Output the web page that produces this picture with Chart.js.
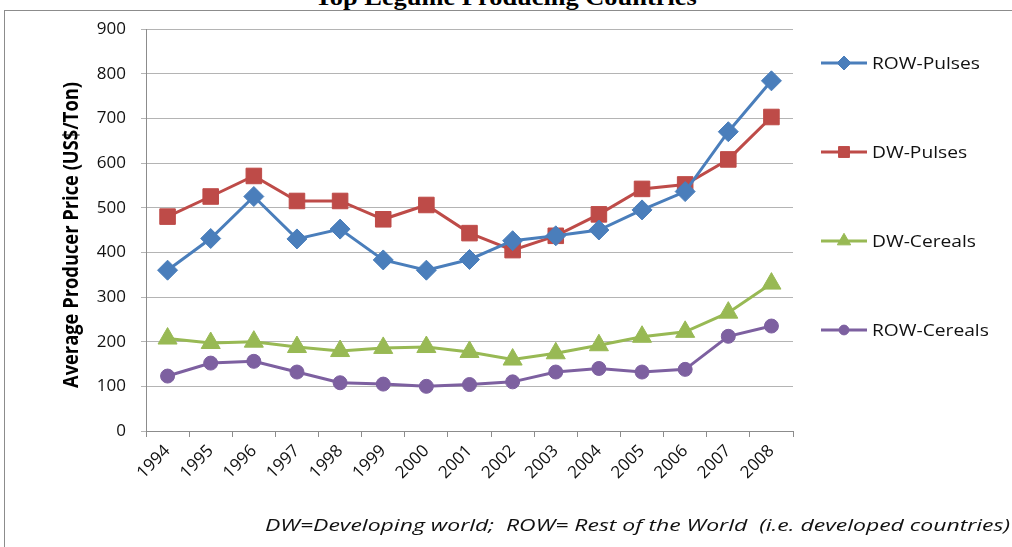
<!DOCTYPE html>
<html>
<head>
<meta charset="utf-8">
<script src="https://cdn.jsdelivr.net/npm/chart.js@4.4.1/dist/chart.umd.min.js"></script>
<style>
  html, body { margin: 0; padding: 0; background: #fff; overflow: hidden; }
  #wrap { position: relative; width: 1012px; height: 547px; }
  #frame { position: absolute; left: 4px; top: 10px; width: 1100px; height: 600px; border: 1px solid #8c8c8c; }
  #title { position: absolute; left: 0; width: 1012px; top: -16px; text-align: center;
           font: bold 24px 'Liberation Serif', 'Times New Roman', serif; color: #000; }
  #title span { display: inline-block; transform: scaleX(1.1); }
  #note { position: absolute; right: 2px; top: 514px; font: italic 16px 'Open Sans', sans-serif;
          color: #111; white-space: pre; transform-origin: right center; }
  canvas { position: absolute; left: 0; top: 0; }
</style>
</head>
<body>
<div id="wrap">
  <div id="frame"></div>
  <div id="title"><span>Top Legume Producing Countries</span></div>
  <canvas id="chart" width="1012" height="547"></canvas>
  <div id="note">DW=Developing world;  ROW= Rest of the World  (i.e. developed countries)</div>
</div>
<script>
// donnees (US$/tonne)
const years = ['1994', '1995', '1996', '1997', '1998', '1999', '2000', '2001',
               '2002', '2003', '2004', '2005', '2006', '2007', '2008'];
const rowPulses   = [360, 431, 525, 430, 452, 383, 360, 384, 426, 437, 450, 495, 536, 670, 784];
const dwPulses    = [480, 525, 571, 515, 515, 474, 506, 443, 405, 437, 485, 542, 552, 608, 703];
const dwCereals   = [207, 197, 200, 188, 179, 186, 188, 177, 160, 174, 192, 211, 222, 265, 330];
const rowCereals  = [123, 152, 156, 132, 108, 105, 100, 104, 110, 132, 140, 132, 138, 212, 235];
const yTicks = [0, 100, 200, 300, 400, 500, 600, 700, 800, 900];
const yTitle = 'Average Producer Price (US$/Ton)';

const colors = {
  blue: '#4a7ebb',
  red: '#be4b48',
  green: '#98b954',
  purple: '#7d60a0',
  grid: '#b4b4b4',
  axis: '#8c8c8c'
};

const fontFam = "'Open Sans', 'Noto Sans', sans-serif";

// la note de bas de page est etiree comme dans l'image d'origine
const note = document.getElementById('note');
note.style.transform = 'scaleX(' + (745 / note.offsetWidth) + ')';

function makeSet(label, data, color, style, radius) {
  return {
    label: label,
    data: data,
    borderColor: color,
    backgroundColor: color,
    borderWidth: 3,
    pointStyle: style,
    pointRadius: radius,
    pointBorderWidth: 1,
    pointBorderColor: color,
    pointBackgroundColor: color,
    tension: 0,
    fill: false
  };
}

// titre de l'axe Y, en gras et comprime
const axisTitle = {
  id: 'axisTitle',
  afterDraw(chart) {
    const ctx = chart.ctx;
    const area = chart.chartArea;
    ctx.save();
    ctx.font = 'bold 22px ' + fontFam;
    const w = ctx.measureText(yTitle).width;
    ctx.translate(72, (area.top + area.bottom) / 2 + 5);
    ctx.rotate(-Math.PI / 2);
    ctx.scale(306 / w, 1);
    ctx.fillStyle = '#000';
    ctx.textAlign = 'center';
    ctx.textBaseline = 'middle';
    ctx.fillText(yTitle, 0, 0);
    ctx.restore();
  }
};

// legende a droite, facon Excel (trait + marqueur)
const sideLegend = {
  id: 'sideLegend',
  afterDraw(chart) {
    const ctx = chart.ctx;
    const rows = [63, 152, 241, 330];
    chart.data.datasets.forEach((ds, i) => {
      const y = rows[i];
      ctx.save();
      ctx.strokeStyle = ds.borderColor;
      ctx.lineWidth = 3;
      ctx.beginPath();
      ctx.moveTo(821, y);
      ctx.lineTo(867, y);
      ctx.stroke();
      ctx.fillStyle = ds.backgroundColor;
      ctx.strokeStyle = ds.borderColor;
      ctx.lineWidth = 1;
      Chart.helpers.drawPoint(ctx, { pointStyle: ds.pointStyle, radius: ds.pointRadius * 0.7, rotation: 0, borderWidth: 1 }, 844, y);
      ctx.fillStyle = '#111';
      ctx.font = '16px ' + fontFam;
      ctx.textBaseline = 'middle';
      ctx.textAlign = 'left';
      ctx.translate(872, y + 1);
      ctx.scale(1.2, 1);
      ctx.fillText(ds.label, 0, 0);
      ctx.restore();
    });
  }
};

new Chart(document.getElementById('chart'), {
  type: 'line',
  data: {
    labels: years,
    datasets: [
      makeSet('ROW-Pulses', rowPulses, colors.blue, 'rectRot', 10),
      makeSet('DW-Pulses', dwPulses, colors.red, 'rect', 11),
      makeSet('DW-Cereals', dwCereals, colors.green, 'triangle', 11),
      makeSet('ROW-Cereals', rowCereals, colors.purple, 'circle', 7)
    ]
  },
  options: {
    responsive: false,
    animation: false,
    layout: { padding: { left: 52, top: 29, right: 219, bottom: 0 } },
    scales: {
      x: {
        offset: true,
        grid: { offset: true, drawOnChartArea: false, tickLength: 6, color: colors.axis },
        border: { color: colors.axis, width: 1 },
        ticks: { maxRotation: 45, minRotation: 45, color: '#111', padding: 4,
                 font: { family: fontFam, size: 17 } },
        afterFit(scale) { scale.height = 116; }
      },
      y: {
        min: 0,
        max: 900,
        afterBuildTicks(scale) { scale.ticks = yTicks.map(v => ({ value: v })); },
        grid: { color: colors.grid, tickLength: 5 },
        border: { color: colors.axis, width: 1 },
        ticks: { color: '#111', padding: 15, font: { family: fontFam, size: 17 } },
        title: { display: false },
        afterFit(scale) { scale.width = 94; }
      }
    },
    plugins: {
      legend: { display: false },
      tooltip: { enabled: false }
    }
  },
  plugins: [axisTitle, sideLegend]
});
</script>
</body>
</html>
